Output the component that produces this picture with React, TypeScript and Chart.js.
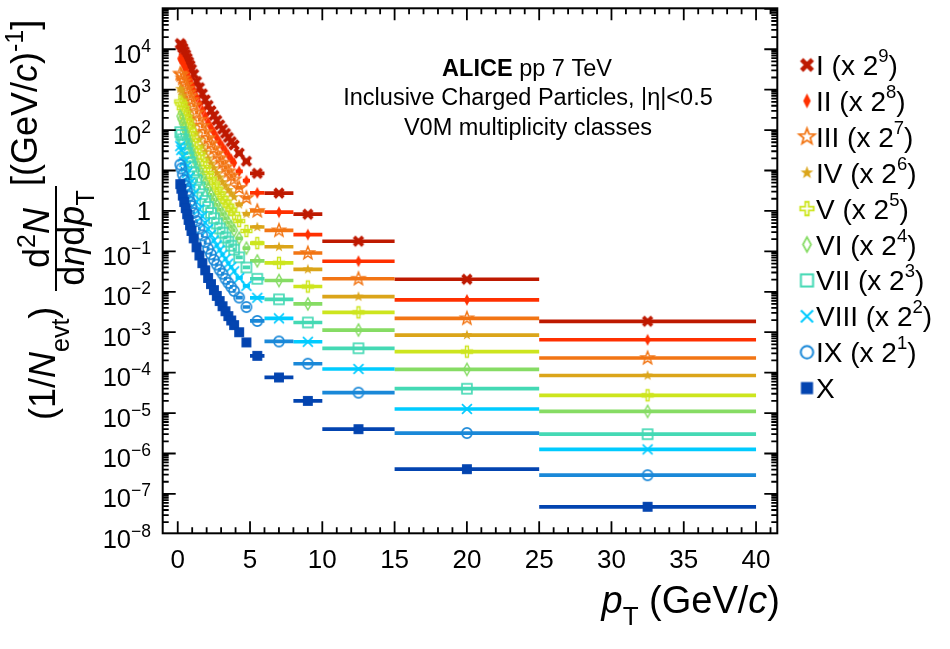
import { useEffect, useRef } from "react";
import { Chart, registerables } from "chart.js";

Chart.register(...registerables);

// pT bin edges (GeV/c); markers sit at bin centres, horizontal bars span the bin
const pTEdges = [
  0.15, 0.2, 0.3, 0.4, 0.5, 0.6, 0.7, 0.8, 0.9, 1.0, 1.2, 1.4, 1.6, 1.8, 2.0, 2.2, 2.4, 2.6, 2.8, 3.0,
  3.2, 3.4, 3.6, 3.8, 4.0, 4.5, 5, 6, 8, 10, 15, 25, 40,
];

const classNames = ["I", "II", "III", "IV", "V", "VI", "VII", "VIII", "IX", "X"];
const scaleExps = [9, 8, 7, 6, 5, 4, 3, 2, 1, null];

// yields, already multiplied by 2^n as in the legend
const classI = [1.38e4, 1.26e4, 1.07e4, 8.9e3, 7.4e3, 6.0e3, 4.9e3, 4.0e3, 3.2e3, 2.4e3, 1.6e3, 1.12e3, 790, 560, 410, 300, 230, 174, 135, 105, 83, 66, 52, 43, 27, 17, 8.5, 2.75, 0.83, 0.178, 0.0204, 1.86e-3];
const classII = [5.9e3, 5.4e3, 4.6e3, 3.8e3, 3.1e3, 2.5e3, 2.0e3, 1.66e3, 1.32e3, 980, 650, 450, 310, 220, 155, 115, 87, 65, 50, 39, 31, 24, 19, 15.5, 9.5, 5.6, 2.8, 0.93, 0.26, 0.057, 6.3e-3, 6.5e-4];
const classIII = [2.5e3, 2.3e3, 1.9e3, 1.6e3, 1.32e3, 1.05e3, 850, 690, 550, 410, 270, 180, 126, 89, 63, 47, 35, 26, 20, 15.5, 12, 9.5, 7.4, 6.0, 3.7, 2.1, 1.0, 0.33, 0.091, 0.021, 2.2e-3, 2.3e-4];
const classIV = [1.05e3, 910, 710, 560, 450, 350, 275, 220, 174, 126, 83, 58, 40, 29, 20, 15, 11.5, 8.7, 6.8, 5.2, 4.2, 3.3, 2.7, 2.2, 1.45, 0.85, 0.4, 0.13, 0.036, 7.6e-3, 8.5e-4, 8.5e-5];
const classV = [510, 450, 350, 270, 210, 166, 129, 100, 79, 56, 37, 26, 17.8, 12.3, 8.7, 6.3, 4.8, 3.6, 2.75, 2.1, 1.7, 1.35, 1.07, 0.85, 0.56, 0.32, 0.16, 0.052, 0.0135, 3.1e-3, 3.3e-4, 2.75e-5];
const classVI = [220, 186, 145, 112, 89, 69, 54, 42, 33, 23, 15, 10.2, 7.1, 4.9, 3.5, 2.5, 1.9, 1.41, 1.07, 0.83, 0.66, 0.51, 0.41, 0.33, 0.21, 0.12, 0.058, 0.019, 5.0e-3, 1.13e-3, 1.2e-4, 1.1e-5];
const classVII = [89, 76, 59, 46, 35, 27, 21, 16.2, 12.6, 8.9, 5.8, 3.8, 2.6, 1.78, 1.26, 0.89, 0.66, 0.49, 0.37, 0.29, 0.22, 0.174, 0.138, 0.11, 0.071, 0.04, 0.021, 6.5e-3, 1.74e-3, 4.0e-4, 4.0e-5, 3.0e-6];
const classVIII = [40, 32, 22, 16.2, 12, 8.7, 6.6, 4.9, 3.8, 2.6, 1.66, 1.1, 0.74, 0.51, 0.355, 0.257, 0.186, 0.141, 0.107, 0.083, 0.065, 0.05, 0.041, 0.032, 0.022, 0.014, 7.1e-3, 2.2e-3, 5.8e-4, 1.23e-4, 1.26e-5, 1.26e-6];
const classIX = [14, 11.2, 7.9, 5.8, 4.2, 3.1, 2.3, 1.7, 1.32, 0.89, 0.56, 0.37, 0.25, 0.17, 0.117, 0.085, 0.062, 0.047, 0.035, 0.028, 0.021, 0.0166, 0.0132, 0.0105, 7.2e-3, 4.2e-3, 1.9e-3, 5.9e-4, 1.66e-4, 3.2e-5, 3.2e-6, 2.9e-7];
const classX = [4.6, 3.55, 2.4, 1.66, 1.17, 0.83, 0.6, 0.44, 0.32, 0.21, 0.126, 0.079, 0.051, 0.034, 0.022, 0.0155, 0.011, 7.9e-3, 5.9e-3, 4.4e-3, 3.3e-3, 2.5e-3, 1.95e-3, 1.5e-3, 1.0e-3, 5.6e-4, 2.6e-4, 7.6e-5, 2.0e-5, 4.0e-6, 4.1e-7, 4.8e-8];

const classValues = [classI, classII, classIII, classIV, classV, classVI, classVII, classVIII, classIX, classX];

const xTickLabels = ["0", "5", "10", "15", "20", "25", "30", "35", "40"];
const yTickExps = [-8, -7, -6, -5, -4, -3, -2, -1, 0, 1, 2, 3, 4];

const colors = ["#be1900", "#ff3000", "#f27514", "#dba51a", "#cde51e", "#86dc64", "#44d9b4", "#00cbff", "#1a88d8", "#0344b0"];
const markerKinds = ["fatX", "diamond", "openStar", "star", "openCross", "openDiamond", "openSquare", "thinX", "openCircle", "square"];

const FONT = '"Liberation Sans", Arial, sans-serif';

function makeMarker(kind: string, color: string, s: number) {
  const size = Math.ceil(18 * s);
  const c = document.createElement("canvas");
  c.width = size;
  c.height = size;
  const g = c.getContext("2d")!;
  g.translate(size / 2, size / 2);
  g.scale(s, s);
  g.strokeStyle = color;
  g.fillStyle = color;
  g.lineWidth = 1.5;
  const poly = (pts: number[][]) => {
    g.beginPath();
    pts.forEach((p, i) => (i ? g.lineTo(p[0], p[1]) : g.moveTo(p[0], p[1])));
    g.closePath();
  };
  const star = (ro: number, ri: number) => {
    const pts: number[][] = [];
    for (let k = 0; k < 10; k++) {
      const r = k % 2 ? ri : ro;
      const a = -Math.PI / 2 + (k * Math.PI) / 5;
      pts.push([r * Math.cos(a), r * Math.sin(a)]);
    }
    poly(pts);
  };
  switch (kind) {
    case "fatX":
      g.lineWidth = 3.4;
      g.beginPath();
      g.moveTo(-4, -4);
      g.lineTo(4, 4);
      g.moveTo(4, -4);
      g.lineTo(-4, 4);
      g.stroke();
      break;
    case "diamond":
      poly([[0, -5.5], [2.8, 0], [0, 5.5], [-2.8, 0]]);
      g.fill();
      break;
    case "openStar":
      star(6.2, 2.6);
      g.lineWidth = 1.3;
      g.stroke();
      break;
    case "star":
      star(5, 2);
      g.fill();
      break;
    case "openCross":
      poly([[-1.3, -5], [1.3, -5], [1.3, -1.3], [5, -1.3], [5, 1.3], [1.3, 1.3], [1.3, 5], [-1.3, 5], [-1.3, 1.3], [-5, 1.3], [-5, -1.3], [-1.3, -1.3]]);
      g.lineWidth = 1.3;
      g.stroke();
      break;
    case "openDiamond":
      poly([[0, -5.5], [3, 0], [0, 5.5], [-3, 0]]);
      g.lineWidth = 1.3;
      g.stroke();
      break;
    case "openSquare":
      g.strokeRect(-4.5, -4.5, 9, 9);
      break;
    case "thinX":
      g.beginPath();
      g.moveTo(-4.5, -4.5);
      g.lineTo(4.5, 4.5);
      g.moveTo(4.5, -4.5);
      g.lineTo(-4.5, 4.5);
      g.stroke();
      break;
    case "openCircle":
      g.beginPath();
      g.arc(0, 0, 4.6, 0, Math.PI * 2);
      g.stroke();
      break;
    default:
      g.fillRect(-4.5, -4.5, 9, 9);
  }
  return c;
}

type Piece = { t: string; f: string; dy?: number };

function piecesWidth(ctx: CanvasRenderingContext2D, ps: Piece[]) {
  let w = 0;
  for (const p of ps) {
    ctx.font = p.f;
    w += ctx.measureText(p.t).width;
  }
  return w;
}

function drawPieces(ctx: CanvasRenderingContext2D, ps: Piece[], x: number, y: number) {
  let cx = x;
  for (const p of ps) {
    ctx.font = p.f;
    ctx.fillText(p.t, cx, y + (p.dy || 0));
    cx += ctx.measureText(p.t).width;
  }
}

function makePlugin(legendMarkers: HTMLCanvasElement[]) {
  return {
    id: "rootFrame",
    beforeDatasetsDraw(chart: any) {
      const { ctx, chartArea: a, scales } = chart;
      ctx.save();
      ctx.beginPath();
      ctx.rect(a.left, a.top, a.right - a.left, a.bottom - a.top);
      ctx.clip();
      ctx.lineWidth = 3.7;
      ctx.lineCap = "butt";
      classValues.forEach((vals, i) => {
        ctx.strokeStyle = colors[i];
        ctx.beginPath();
        vals.forEach((v, j) => {
          const y = scales.y.getPixelForValue(v);
          ctx.moveTo(scales.x.getPixelForValue(pTEdges[j]), y);
          ctx.lineTo(scales.x.getPixelForValue(pTEdges[j + 1]), y);
        });
        ctx.stroke();
      });
      ctx.restore();
    },
    afterDraw(chart: any) {
      const { ctx, chartArea: a, scales } = chart;
      const xs = scales.x;
      const ys = scales.y;
      ctx.save();
      ctx.strokeStyle = "#000";
      ctx.fillStyle = "#000";
      ctx.lineWidth = 2;
      ctx.strokeRect(a.left, a.top, a.right - a.left, a.bottom - a.top);

      // x ticks (bottom and top)
      ctx.lineWidth = 1.8;
      ctx.beginPath();
      for (let v = 0; v <= 41; v++) {
        const px = xs.getPixelForValue(v);
        const len = v % 5 === 0 ? 12 : 6;
        ctx.moveTo(px, a.bottom);
        ctx.lineTo(px, a.bottom - len);
        ctx.moveTo(px, a.top);
        ctx.lineTo(px, a.top + len);
      }
      // y ticks (left and right)
      for (let e = -8; e <= 5; e++) {
        for (let m = 1; m <= 9; m++) {
          const v = m * Math.pow(10, e);
          if (v < ys.min || v > ys.max) continue;
          const py = ys.getPixelForValue(v);
          const len = m === 1 ? 13 : 6;
          ctx.moveTo(a.left, py);
          ctx.lineTo(a.left + len, py);
          ctx.moveTo(a.right, py);
          ctx.lineTo(a.right - len, py);
        }
      }
      ctx.stroke();

      // tick labels
      ctx.textBaseline = "alphabetic";
      ctx.textAlign = "center";
      ctx.font = `26px ${FONT}`;
      xTickLabels.forEach((t) => {
        ctx.fillText(t, xs.getPixelForValue(Number(t)), a.bottom + 35);
      });
      ctx.textAlign = "left";
      const main = `25.5px ${FONT}`;
      const sup = `17.5px ${FONT}`;
      yTickExps.forEach((e) => {
        const py = ys.getPixelForValue(Math.pow(10, e));
        let ps: Piece[];
        let base = py + 9.5;
        if (e === 0) ps = [{ t: "1", f: main }];
        else if (e === 1) ps = [{ t: "10", f: main }];
        else {
          ps = [
            { t: "10", f: main },
            { t: String(e).replace("-", "\u2212"), f: sup, dy: -11 },
          ];
          base = py + 13.5;
        }
        drawPieces(ctx, ps, 151 - piecesWidth(ctx, ps), base);
      });

      // x title
      const xbig = `38px ${FONT}`;
      const xbigI = `italic 38px ${FONT}`;
      const xt: Piece[] = [
        { t: "p", f: xbigI },
        { t: "T", f: `26px ${FONT}`, dy: 12 },
        { t: " (GeV/", f: xbig },
        { t: "c", f: xbigI },
        { t: ")", f: xbig },
      ];
      drawPieces(ctx, xt, 780 - piecesWidth(ctx, xt), 613);

      // y title, rotated: u = -pageY, v = pageX
      const big = `36px ${FONT}`;
      const bigI = `italic 36px ${FONT}`;
      const sub = `25px ${FONT}`;
      ctx.save();
      ctx.rotate(-Math.PI / 2);
      const y1: Piece[] = [
        { t: "(1/", f: big },
        { t: "N", f: bigI },
        { t: "evt", f: sub, dy: 14 },
        { t: ")", f: big },
      ];
      drawPieces(ctx, y1, -420, 55);
      const num: Piece[] = [
        { t: "d", f: big },
        { t: "2", f: sub, dy: -14 },
        { t: "N", f: bigI },
      ];
      drawPieces(ctx, num, -238 - piecesWidth(ctx, num) / 2, 49);
      const den: Piece[] = [
        { t: "d", f: big },
        { t: "\u03b7", f: bigI },
        { t: "d", f: big },
        { t: "p", f: bigI },
        { t: "T", f: sub, dy: 10 },
      ];
      drawPieces(ctx, den, -238 - piecesWidth(ctx, den) / 2, 84);
      const y3: Piece[] = [
        { t: "[(GeV/", f: big },
        { t: "c", f: bigI },
        { t: ")", f: big },
        { t: "-1", f: sub, dy: -14 },
        { t: "]", f: big },
      ];
      drawPieces(ctx, y3, -186, 37);
      ctx.restore();
      ctx.lineWidth = 2;
      ctx.beginPath();
      ctx.moveTo(56, 186);
      ctx.lineTo(56, 291);
      ctx.stroke();

      // annotation
      const ann = `23.5px ${FONT}`;
      const l1: Piece[] = [
        { t: "ALICE", f: `bold 23.5px ${FONT}` },
        { t: " pp 7 TeV", f: ann },
      ];
      drawPieces(ctx, l1, 527 - piecesWidth(ctx, l1) / 2, 76);
      ctx.textAlign = "center";
      ctx.font = ann;
      ctx.fillText("Inclusive Charged Particles, |\u03b7|<0.5", 528, 105);
      ctx.fillText("V0M multiplicity classes", 528, 135);
      ctx.textAlign = "left";

      // legend
      const lf = `28px ${FONT}`;
      const ls = `18.5px ${FONT}`;
      classNames.forEach((name, i) => {
        const cy = 65 + i * 35.9;
        const m = legendMarkers[i];
        ctx.drawImage(m, 807 - m.width / 2, cy - m.height / 2);
        const ex = scaleExps[i];
        const ps: Piece[] =
          ex === null
            ? [{ t: name, f: lf }]
            : [
                { t: `${name} (x 2`, f: lf },
                { t: String(ex), f: ls, dy: -13 },
                { t: ")", f: lf },
              ];
        drawPieces(ctx, ps, 816, cy + 10);
      });
      ctx.restore();
    },
  };
}

export default function App() {
  const canvasEl = useRef<HTMLCanvasElement>(null);

  useEffect(() => {
    const plotMarkers = markerKinds.map((k, i) => makeMarker(k, colors[i], 1.1));
    const legendMarkers = markerKinds.map((k, i) => makeMarker(k, colors[i], 1.35));
    const centers = pTEdges.slice(0, -1).map((lo, j) => (lo + pTEdges[j + 1]) / 2);

    const chart = new Chart(canvasEl.current!, {
      type: "scatter",
      data: {
        datasets: classValues.map((vals, i) => ({
          label: classNames[i],
          data: vals.map((v, j) => ({ x: centers[j], y: v })),
          pointStyle: plotMarkers[i],
          showLine: false,
          order: 9 - i,
        })),
      },
      options: {
        animation: false,
        responsive: true,
        maintainAspectRatio: false,
        events: [],
        layout: { padding: { left: 162.7, right: 172.7, top: 8.3, bottom: 115.7 } },
        plugins: { legend: { display: false }, tooltip: { enabled: false } },
        scales: {
          x: { type: "linear", min: -1.04, max: 41.47, display: false },
          y: { type: "logarithmic", min: 1.06e-8, max: 1.03e5, display: false },
        },
      },
      plugins: [makePlugin(legendMarkers)],
    });
    return () => {
      chart.destroy();
    };
  }, []);

  return (
    <div style={{ position: "fixed", left: 0, top: 0, width: 950, height: 649, background: "#fff" }}>
      <canvas ref={canvasEl} />
    </div>
  );
}
